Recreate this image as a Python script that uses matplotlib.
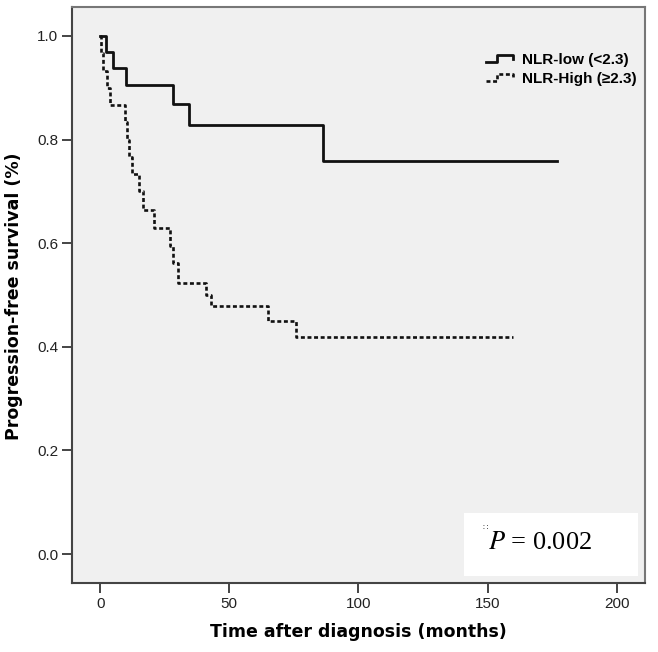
import matplotlib
matplotlib.use("Agg")
import matplotlib.pyplot as plt
from matplotlib.legend_handler import HandlerBase
from matplotlib.lines import Line2D
from matplotlib.patches import Rectangle
from matplotlib.ticker import FormatStrFormatter

# ---- data ----
low_times = [2.3, 5.0, 10.0, 28.2, 34.4, 86.3]
low_surv = [0.969, 0.938, 0.906, 0.869, 0.828, 0.759]
low_end = 177.0

high_times = [0.5, 1.3, 2.5, 3.8, 9.5, 10.5, 11.2, 12.3, 15.2, 16.5, 20.8,
              27.1, 28.2, 30.3, 41.1, 42.9, 64.9, 75.9]
high_surv = [0.967, 0.933, 0.900, 0.867, 0.833, 0.800, 0.767, 0.733, 0.700,
             0.664, 0.629, 0.595, 0.561, 0.5225, 0.500, 0.479, 0.449, 0.418]
high_end = 160.0

labels = ["NLR-low (<2.3)", "NLR-High (\u22652.3)"]
x_ticks = [0, 50, 100, 150, 200]
y_ticks = [0.0, 0.2, 0.4, 0.6, 0.8, 1.0]
p_text = "0.002"


def step_xy(times, surv, end):
    xs = [0.0] + list(times) + [end]
    ys = [1.0] + list(surv) + [surv[-1]]
    return xs, ys


class StepHandler(HandlerBase):
    def create_artists(self, legend, orig_handle, xdescent, ydescent,
                       width, height, fontsize, trans):
        x0, y0 = -xdescent, -ydescent
        xs = [x0, x0 + 0.42 * width, x0 + 0.42 * width, x0 + width, x0 + width]
        ys = [y0 + 0.15 * height, y0 + 0.15 * height, y0 + 0.85 * height,
              y0 + 0.85 * height, y0 + 0.5 * height]
        ln = Line2D(xs, ys, color=orig_handle.get_color(),
                    linewidth=orig_handle.get_linewidth(), transform=trans)
        ln.set_linestyle(orig_handle.get_linestyle())
        if orig_handle.get_linestyle() not in ('-', 'solid'):
            ln.set_dashes(orig_handle._unscaled_dash_pattern[1])
        return [ln]


fig = plt.figure(figsize=(6.58, 6.52), dpi=100)
ax = fig.add_axes([0.1094, 0.1058, 0.8706, 0.8835])
ax.set_facecolor("#f0f0f0")

xl, yl = step_xy(low_times, low_surv, low_end)
xh, yh = step_xy(high_times, high_surv, high_end)
l1, = ax.step(xl, yl, where="post", color="#111111", linewidth=2.0,
              label=labels[0])
l2, = ax.step(xh, yh, where="post", color="#111111", linewidth=1.9,
              linestyle=(0, (1.5, 1.0)), label=labels[1])

ax.set_xlim(-10.9, 210.9)
ax.set_ylim(-0.056, 1.056)
ax.set_xticks(x_ticks)
ax.set_yticks(y_ticks)
ax.yaxis.set_major_formatter(FormatStrFormatter("%.1f"))
ax.tick_params(axis="both", direction="out", length=7, width=1.4,
               color="#444444", labelsize=11, labelcolor="#222222",
               pad=3)
for lab in ax.get_xticklabels() + ax.get_yticklabels():
    lab.set_family(["Liberation Sans", "DejaVu Sans"])

for side in ["left", "bottom"]:
    ax.spines[side].set_color("#444444")
    ax.spines[side].set_linewidth(1.5)
for side in ["top", "right"]:
    ax.spines[side].set_color("#777777")
    ax.spines[side].set_linewidth(1.5)

ax.set_xlabel("Time after diagnosis (months)", fontsize=12.5,
              fontweight="bold", family="DejaVu Sans")
ax.set_ylabel("Progression-free survival (%)", fontsize=12.5,
              fontweight="bold", family="DejaVu Sans")
ax.xaxis.set_label_coords(0.5, -0.070)
ax.yaxis.set_label_coords(-0.0855, 0.498)

leg = ax.legend(handles=[l1, l2], loc="upper right",
                bbox_to_anchor=(0.985, 0.920), bbox_transform=ax.transAxes,
                frameon=False, borderpad=0, borderaxespad=0,
                labelspacing=0.3, handlelength=1.8, handletextpad=0.55,
                handler_map={Line2D: StepHandler()},
                prop={"family": ["Liberation Sans", "DejaVu Sans"],
                      "weight": "bold", "size": 11})

# P-value box
ax.add_patch(Rectangle((0.684, 0.012), 0.304, 0.109, transform=ax.transAxes,
                       facecolor="white", edgecolor="none", zorder=5))
plt.rcParams["mathtext.fontset"] = "stix"
ax.text(0.727, 0.069, r"$P$ = " + p_text, transform=ax.transAxes,
        fontsize=19, family="Liberation Serif", va="center", ha="left",
        zorder=6)
ax.text(0.7265, 0.097, "\u2237", transform=ax.transAxes, fontsize=6,
        color="#444444", va="center", ha="right", zorder=6,
        family="DejaVu Sans")

fig.savefig("out.png", dpi=100)
